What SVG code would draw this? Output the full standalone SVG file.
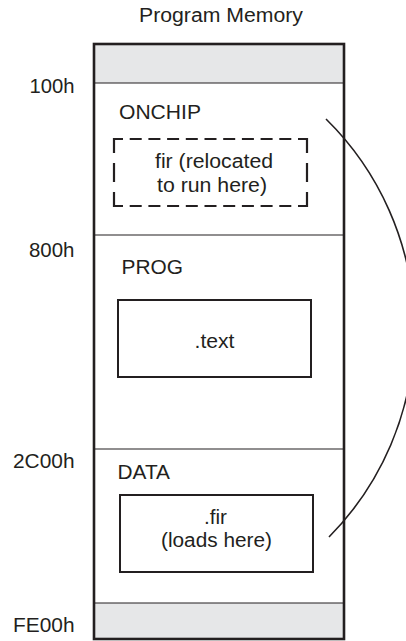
<svg xmlns="http://www.w3.org/2000/svg" width="406" height="641" viewBox="0 0 406 641">
<style>
  text { font-family: "Liberation Sans", Arial, sans-serif; font-size: 20px; fill: #231f20; }
  .addr { text-anchor: end; }
  .mid { text-anchor: middle; }
  .band { fill: #e6e7e8; stroke: none; }
  .div { stroke: #231f20; stroke-width: 1.2; fill: none; }
  .box { fill: none; stroke: #231f20; stroke-width: 2; }
  .dash { fill: none; stroke: #231f20; stroke-width: 2.2; stroke-linejoin: miter;
          stroke-dasharray: 23 6.7 12 6.7 12 6.7 12 6.7 12 6.7 12 6.7 12 6.7 12 6.7 12 6.7 12 6.7 23 10 19 10 23 6.7 12 6.7 12 6.7 12 6.7 12 6.7 12 6.7 12 6.7 12 6.7 12 6.7 12 6.7 23 10 19 10; }
  .outer { fill: none; stroke: #231f20; stroke-width: 2.6; }
  .conn { fill: none; stroke: #231f20; stroke-width: 1.6; }
</style>
<rect width="406" height="641" fill="#ffffff"/>
<text id="title" class="mid" x="221" y="22" textLength="164" lengthAdjust="spacingAndGlyphs">Program Memory</text>

<g id="memory">
  <rect class="band" x="94" y="44" width="250" height="39"/>
  <rect class="band" x="94" y="603" width="250" height="36"/>
  <line class="div" x1="94" y1="83" x2="344" y2="83"/>
  <line class="div" x1="94" y1="235" x2="344" y2="235"/>
  <line class="div" x1="94" y1="449" x2="344" y2="449"/>
  <line class="div" x1="94" y1="603" x2="344" y2="603"/>
  <rect class="outer" x="94" y="44" width="250" height="595"/>
</g>

<g id="addresses">
  <text class="addr" x="74.5" y="93" textLength="45" lengthAdjust="spacingAndGlyphs">100h</text>
  <text class="addr" x="74.5" y="257" textLength="45.5" lengthAdjust="spacingAndGlyphs">800h</text>
  <text class="addr" x="74.5" y="468" textLength="61.5" lengthAdjust="spacingAndGlyphs">2C00h</text>
  <text class="addr" x="74.5" y="632" textLength="61.5" lengthAdjust="spacingAndGlyphs">FE00h</text>
</g>

<g id="onchip">
  <text x="119" y="119" textLength="82" lengthAdjust="spacingAndGlyphs">ONCHIP</text>
</g>
<g id="fir-run">
  <path class="dash" d="M114,153 V139 H307 V206 H114 Z"/>
  <text class="mid" x="214" y="168" textLength="118" lengthAdjust="spacingAndGlyphs">fir (relocated</text>
  <text class="mid" x="212" y="192" textLength="110" lengthAdjust="spacingAndGlyphs">to run here)</text>
</g>

<g id="prog">
  <text x="121.5" y="274" textLength="61.5" lengthAdjust="spacingAndGlyphs">PROG</text>
</g>
<g id="text-section">
  <rect class="box" x="118" y="300" width="193" height="77"/>
  <text class="mid" x="214.5" y="348" textLength="40" lengthAdjust="spacingAndGlyphs">.text</text>
</g>

<g id="data">
  <text x="117.5" y="479" textLength="52.5" lengthAdjust="spacingAndGlyphs">DATA</text>
</g>
<g id="fir-load">
  <rect class="box" x="120" y="495" width="193" height="77"/>
  <text class="mid" x="215.5" y="524" textLength="23" lengthAdjust="spacingAndGlyphs">.fir</text>
  <text class="mid" x="216.5" y="547" textLength="111" lengthAdjust="spacingAndGlyphs">(loads here)</text>
</g>

<g id="connectors">
  <path class="conn" d="M326,119 A295,295 0 0,1 329,537"/>
</g>
</svg>
